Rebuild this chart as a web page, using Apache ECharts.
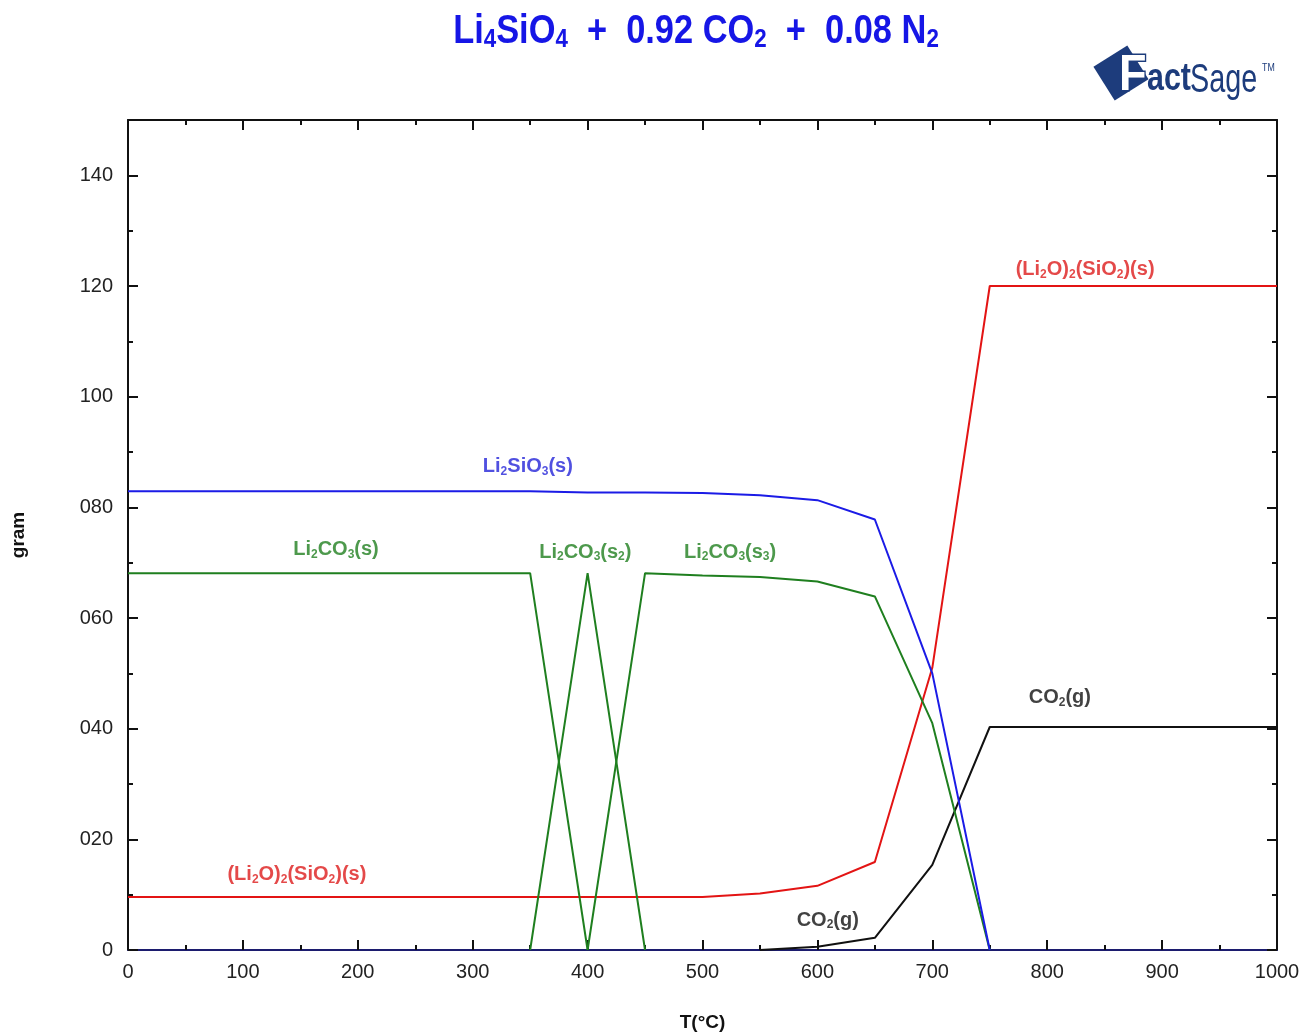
<!DOCTYPE html>
<html>
<head>
<meta charset="utf-8">
<title>Li4SiO4 + 0.92 CO2 + 0.08 N2</title>
<script src="https://cdn.jsdelivr.net/npm/echarts@6/dist/echarts.min.js"></script>
<style>
  html, body { margin: 0; padding: 0; background: #ffffff; }
  #chart { width: 1303px; height: 1036px; }
</style>
</head>
<body>
<div id="chart"></div>
<script>
// Equilibrium amounts (gram) vs temperature (°C)
const temps = [0, 50, 100, 150, 200, 250, 300, 350, 400, 450, 500, 550, 600, 650, 700, 750, 800, 850, 900, 950, 1000];
const li2sio3 = [82.9, 82.9, 82.9, 82.9, 82.9, 82.9, 82.9, 82.9, 82.7, 82.7, 82.6, 82.2, 81.3, 77.8, 50.0, 0, null, null, null, null, null];
const li2co3S = [68.1, 68.1, 68.1, 68.1, 68.1, 68.1, 68.1, 68.1, 0, null, null, null, null, null, null, null, null, null, null, null, null];
const li2co3S2 = [null, null, null, null, null, null, null, 0, 68.1, 0, null, null, null, null, null, null, null, null, null, null, null];
const li2co3S3 = [null, null, null, null, null, null, null, null, 0, 68.1, 67.7, 67.4, 66.6, 63.9, 41.0, 0, null, null, null, null, null];
const li2o2sio2 = [9.6, 9.6, 9.6, 9.6, 9.6, 9.6, 9.6, 9.6, 9.6, 9.6, 9.6, 10.2, 11.6, 15.9, 51.0, 120, 120, 120, 120, 120, 120];
const co2g = [null, null, null, null, null, null, null, null, null, null, null, 0, 0.6, 2.2, 15.4, 40.3, 40.3, 40.3, 40.3, 40.3, 40.3];

const yTicks = [0, 20, 40, 60, 80, 100, 120, 140];
const yMinorTicks = [10, 30, 50, 70, 90, 110, 130];

// Species labels: anchor (T, gram) and rich-text content
const speciesLabels = [
  { t: 348, g: 87.4, text: '{n|Li}{s|2}{n|SiO}{s|3}{n|(s)}', color: '#2424d8' },
  { t: 181, g: 72.3, text: '{n|Li}{s|2}{n|CO}{s|3}{n|(s)}', color: '#21801f' },
  { t: 398, g: 71.9, text: '{n|Li}{s|2}{n|CO}{s|3}{n|(s}{s|2}{n|)}', color: '#21801f' },
  { t: 524, g: 71.9, text: '{n|Li}{s|2}{n|CO}{s|3}{n|(s}{s|3}{n|)}', color: '#21801f' },
  { t: 147, g: 13.6, text: '{n|(Li}{s|2}{n|O)}{s|2}{n|(SiO}{s|2}{n|)(s)}', color: '#dd1c1c' },
  { t: 833, g: 123.0, text: '{n|(Li}{s|2}{n|O)}{s|2}{n|(SiO}{s|2}{n|)(s)}', color: '#dd1c1c' },
  { t: 811, g: 45.6, text: '{n|CO}{s|2}{n|(g)}', color: '#111111' },
  { t: 609, g: 5.4, text: '{n|CO}{s|2}{n|(g)}', color: '#111111' }
];

const FONT = '"Liberation Sans", Arial, sans-serif';
const pairs = arr => temps.map((t, i) => [t, arr[i]]);

function lineSeries(name, arr, color) {
  return {
    name: name, type: 'line', data: pairs(arr), xAxisIndex: 0, yAxisIndex: 0,
    showSymbol: false, symbol: 'none', connectNulls: false,
    lineStyle: { color: color, width: 2 }, z: 3, animation: false
  };
}

function labelSeries(lb) {
  return {
    type: 'scatter', xAxisIndex: 0, yAxisIndex: 0, data: [[lb.t, lb.g]],
    symbolSize: 0, silent: true, animation: false, z: 5,
    label: {
      show: true, position: 'inside', formatter: lb.text,
      rich: {
        n: { fontSize: 20, fontWeight: 'bold', color: lb.color, fontFamily: FONT },
        s: { fontSize: 12, fontWeight: 'bold', color: lb.color, fontFamily: FONT, padding: [10, 0, 0, 0] }
      }
    }
  };
}

const tickStyle = { color: '#111111', width: 2 };

function xAxisDef(position, withLabels) {
  return {
    type: 'value', min: 0, max: 1000, interval: 100, position: position,
    axisLine: { show: true, onZero: false, lineStyle: { color: position === 'bottom' ? '#1c1c6e' : '#111111', width: 2 } },
    axisTick: { show: true, inside: true, length: 10, lineStyle: tickStyle },
    minorTick: { show: true, splitNumber: 2, length: 5, lineStyle: tickStyle },
    splitLine: { show: false },
    axisLabel: { show: withLabels, fontSize: 20, color: '#222222', margin: 12, fontFamily: FONT, formatter: v => String(v) },
    name: withLabels ? 'T(°C)' : '', nameLocation: 'middle', nameGap: 63,
    nameTextStyle: { fontSize: 19, fontWeight: 'bold', color: '#111111', fontFamily: FONT }
  };
}

function yAxisDef(position, minor, withLabels) {
  return {
    type: 'value', min: 0, max: 150, position: position,
    axisLine: { show: !minor, onZero: false, lineStyle: { color: '#111111', width: 2 } },
    axisTick: { show: true, inside: true, length: minor ? 5 : 10, lineStyle: tickStyle, customValues: minor ? yMinorTicks : yTicks },
    splitLine: { show: false },
    axisLabel: {
      show: withLabels, customValues: yTicks, fontSize: 20, color: '#222222', margin: 15, fontFamily: FONT,
      formatter: v => (v === 0 ? '0' : String(v).padStart(3, '0'))
    },
    name: withLabels ? 'gram' : '', nameLocation: 'middle', nameGap: 100, nameRotate: 90,
    nameTextStyle: { fontSize: 19, fontWeight: 'bold', color: '#111111', fontFamily: FONT }
  };
}

const chart = echarts.init(document.getElementById('chart'), null, { renderer: 'canvas' });

const option = {
  backgroundColor: '#ffffff',
  animation: false,
  grid: { left: 128, right: 26, top: 120, bottom: 86, containLabel: false, outerBoundsMode: 'none' },
  xAxis: [xAxisDef('bottom', true), xAxisDef('top', false)],
  yAxis: [yAxisDef('left', false, true), yAxisDef('left', true, false), yAxisDef('right', false, false), yAxisDef('right', true, false)],
  series: [
    lineSeries('(Li2O)2(SiO2)(s)', li2o2sio2, '#e31414'),
    lineSeries('CO2(g)', co2g, '#111111'),
    lineSeries('Li2CO3(s)', li2co3S, '#1f7f1f'),
    lineSeries('Li2CO3(s2)', li2co3S2, '#1f7f1f'),
    lineSeries('Li2CO3(s3)', li2co3S3, '#1f7f1f'),
    lineSeries('Li2SiO3(s)', li2sio3, '#1b1be6')
  ].concat(speciesLabels.map(labelSeries)),
  graphic: [
    {
      type: 'text', x: 696, y: 32, scaleX: 0.86, z: 10,
      style: {
        text: '{n|Li}{s|4}{n|SiO}{s|4}{n|  +  0.92 CO}{s|2}{n|  +  0.08 N}{s|2}',
        align: 'center', verticalAlign: 'middle',
        rich: {
          n: { fontSize: 40, fontWeight: 'bold', fill: '#1616e6', fontFamily: FONT },
          s: { fontSize: 26, fontWeight: 'bold', fill: '#1616e6', fontFamily: FONT, padding: [16, 0, 0, 0] }
        }
      }
    },
    {
      // FactSage logo
      type: 'group', x: 0, y: 0, z: 10,
      children: [
        {
          type: 'rect', x: 1121, y: 73, rotation: 0.56,
          shape: { x: -20, y: -20, width: 40, height: 40 },
          style: { fill: '#1d3c7c' }
        },
        {
          type: 'text', x: 1119, y: 101, scaleX: 0.9,
          style: { text: 'F', fontSize: 50, fontWeight: 'bold', fontFamily: FONT, fill: '#ffffff', stroke: '#1d3c7c', lineWidth: 3, verticalAlign: 'bottom' }
        },
        {
          type: 'text', x: 1147, y: 99, scaleX: 0.8,
          style: { text: 'act', fontSize: 38, fontWeight: 'bold', fontFamily: FONT, fill: '#1d3c7c', verticalAlign: 'bottom' }
        },
        {
          type: 'text', x: 1190, y: 101, scaleX: 0.72,
          style: { text: 'Sage', fontSize: 40, fontFamily: FONT, fill: '#1d3c7c', verticalAlign: 'bottom' }
        },
        {
          type: 'text', x: 1262, y: 62, scaleX: 0.8,
          style: { text: 'TM', fontSize: 11, fontFamily: FONT, fill: '#1d3c7c', verticalAlign: 'top' }
        }
      ]
    }
  ]
};

chart.setOption(option);
</script>
</body>
</html>
